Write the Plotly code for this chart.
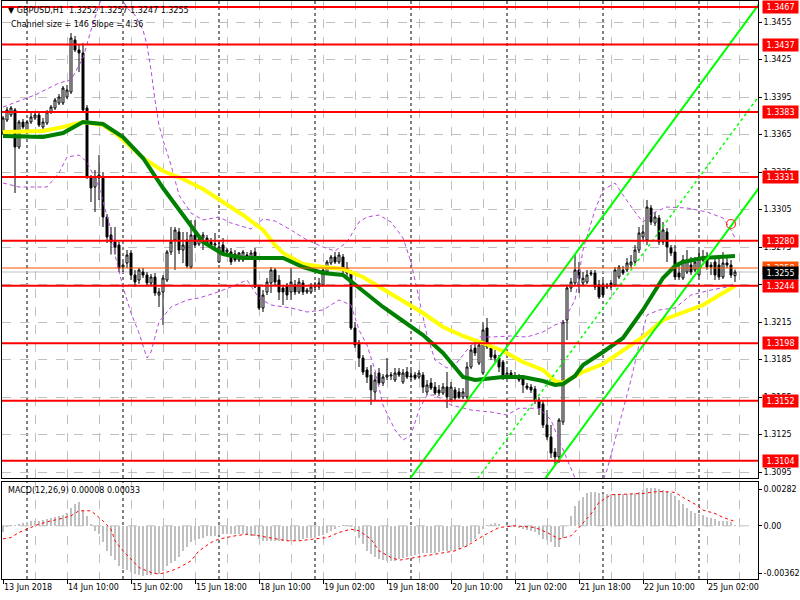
import plotly.graph_objects as go
from datetime import datetime, timedelta

# ---------------- DATA ----------------
opens = [1.33662,1.33766,1.33806,1.33846,1.3355,1.3375,1.3367,1.3375,1.33782,1.33806,
1.3371,1.33742,1.3383,1.33862,1.33902,1.33902,1.3395,1.3399,1.34406,1.34326,
1.34302,1.33862,1.3331,1.3323,1.33302,1.3331,1.3299,1.32846,1.3279,1.32766,
1.3259,1.32622,1.32702,1.32526,1.32486,1.3255,1.32526,1.32462,1.3251,1.32366,
1.3239,1.32486,1.3271,1.32806,1.3287,1.32726,1.32806,1.3259,1.32846,1.32774,
1.32822,1.32822,1.3279,1.32766,1.3263,1.32766,1.3271,1.3271,1.32694,1.32646,
1.32646,1.32686,1.3267,1.3271,1.3243,1.32262,1.3239,1.32462,1.32566,1.32486,
1.32422,1.32446,1.3239,1.32446,1.3239,1.32462,1.3239,1.3239,1.3243,1.3243,
1.32446,1.3255,1.32622,1.3267,1.3263,1.3267,1.32582,1.3255,1.32102,1.31982,
1.31862,1.31766,1.31726,1.3159,1.31742,1.31662,1.3171,1.31718,1.31686,1.3175,
1.3167,1.3175,1.3171,1.31726,1.3171,1.31726,1.3159,1.31662,1.3163,1.31606,
1.31582,1.3163,1.31526,1.31606,1.3159,1.3155,1.3155,1.3179,1.31942,1.31822,
1.31742,1.32102,1.31942,1.31886,1.31862,1.3183,1.3171,1.31742,1.31718,1.3171,
1.31702,1.31638,1.3163,1.31614,1.31526,1.31494,1.31326,1.3123,1.3111,1.3107,
1.3135,1.32166,1.32422,1.32462,1.32566,1.32462,1.3247,1.32534,1.32542,1.32446,
1.32446,1.3243,1.32462,1.32446,1.3251,1.32566,1.32566,1.32606,1.3263,1.32726,
1.3283,1.32806,1.33062,1.32942,1.32982,1.3279,1.3287,1.32742,1.3271,1.32542,
1.32502,1.3255,1.32606,1.32566,1.32526,1.3267,1.3267,1.32606,1.3263,1.32606,
1.3251,1.32622,1.32606,1.3252]
highs = [1.33798,1.3387,1.33878,1.33862,1.33766,1.33774,1.33766,1.33822,1.33822,1.33822,
1.33782,1.33846,1.33886,1.33942,1.33974,1.34038,1.34046,1.34462,1.34438,1.34366,
1.34382,1.33886,1.33326,1.33366,1.33486,1.3335,1.33014,1.3291,1.3291,1.3279,
1.3263,1.32726,1.32726,1.32566,1.32582,1.32582,1.3255,1.32534,1.32542,1.32422,
1.32526,1.32726,1.3291,1.3291,1.32902,1.3287,1.3287,1.32966,1.32966,1.32838,
1.3287,1.32846,1.32822,1.32862,1.3279,1.32822,1.32742,1.32742,1.32726,1.3271,
1.32726,1.3271,1.32726,1.32742,1.32446,1.32406,1.32502,1.3259,1.32582,1.32526,
1.32446,1.32462,1.32582,1.32486,1.32502,1.32486,1.32422,1.32462,1.3247,1.32502,
1.32606,1.32646,1.32686,1.3271,1.3271,1.32694,1.3263,1.32566,1.3215,1.32006,
1.31886,1.3179,1.31806,1.3175,1.31782,1.31734,1.31862,1.3175,1.31782,1.31782,
1.31774,1.3179,1.31766,1.3175,1.31766,1.3175,1.31686,1.31702,1.3167,1.31646,
1.31662,1.3175,1.3167,1.3163,1.31622,1.31622,1.3183,1.31966,1.32006,1.32006,
1.3215,1.32182,1.31966,1.31926,1.31886,1.31846,1.31766,1.31766,1.3175,1.31734,
1.31718,1.31662,1.31654,1.31638,1.3155,1.31526,1.31446,1.31326,1.31142,1.31382,
1.32166,1.32446,1.32502,1.32686,1.3263,1.3255,1.32566,1.32566,1.32566,1.32486,
1.32486,1.32462,1.32486,1.3259,1.32606,1.32598,1.32662,1.32686,1.32766,1.3291,
1.32926,1.33126,1.33086,1.3303,1.33006,1.3295,1.32902,1.32766,1.32766,1.3263,
1.32686,1.32726,1.3267,1.3267,1.32726,1.32726,1.3271,1.3263,1.32662,1.3267,
1.3271,1.32662,1.32646,1.3257]
lows = [1.33646,1.3375,1.3379,1.33182,1.33534,1.33694,1.33654,1.33734,1.33766,1.3371,
1.33694,1.33726,1.33814,1.33846,1.33886,1.33886,1.33934,1.33974,1.3431,1.3415,
1.3383,1.33294,1.3311,1.3303,1.33126,1.3291,1.32782,1.3269,1.3269,1.3255,
1.3255,1.32582,1.32486,1.3243,1.32454,1.32502,1.32438,1.32446,1.32358,1.3227,
1.32126,1.3247,1.32686,1.32566,1.32694,1.32622,1.32582,1.32574,1.32742,1.32758,
1.32726,1.32766,1.32742,1.32742,1.32622,1.32686,1.32678,1.32606,1.3263,1.3263,
1.3263,1.32646,1.32654,1.32422,1.32246,1.3223,1.32366,1.32382,1.32446,1.32326,
1.32286,1.32326,1.32326,1.32366,1.32374,1.32366,1.32374,1.32374,1.32406,1.32406,
1.3243,1.32534,1.32606,1.32614,1.32614,1.32526,1.32518,1.32086,1.31942,1.3179,
1.31726,1.31662,1.31486,1.31526,1.31646,1.31638,1.31686,1.31686,1.3167,1.3171,
1.31654,1.31694,1.31686,1.31686,1.31694,1.31582,1.31566,1.31606,1.31566,1.31558,
1.31566,1.31462,1.3151,1.31526,1.31534,1.31534,1.31534,1.31774,1.31878,1.31806,
1.31726,1.31934,1.31846,1.3183,1.3175,1.31686,1.31694,1.31702,1.31702,1.3167,
1.31582,1.31606,1.31582,1.31494,1.31406,1.31302,1.31206,1.31062,1.31006,1.31022,
1.31326,1.32006,1.3239,1.32438,1.32382,1.32438,1.32454,1.32518,1.32406,1.32334,
1.3235,1.32414,1.32406,1.3243,1.32494,1.32526,1.3255,1.32582,1.32614,1.32702,
1.32806,1.32766,1.32926,1.32918,1.32766,1.32766,1.3263,1.32678,1.32486,1.32486,
1.32486,1.32534,1.32526,1.3255,1.3251,1.3263,1.32566,1.32526,1.32486,1.32486,
1.32494,1.32582,1.32502,1.3247]
closes = [1.33782,1.33846,1.33862,1.3355,1.3375,1.3371,1.3375,1.3379,1.33806,1.33726,
1.3375,1.3383,1.3387,1.33926,1.3395,1.34022,1.34006,1.34422,1.34326,1.34302,
1.33846,1.3331,1.33222,1.3331,1.33326,1.3299,1.3283,1.3279,1.3275,1.32582,
1.32606,1.32686,1.32526,1.3247,1.32566,1.32526,1.32462,1.3251,1.32382,1.3239,
1.32502,1.3271,1.3279,1.32886,1.32726,1.32766,1.32598,1.32846,1.32766,1.32814,
1.32846,1.32782,1.32766,1.32774,1.3275,1.32702,1.32726,1.3263,1.32646,1.32702,
1.3271,1.32662,1.32702,1.3243,1.32262,1.32366,1.3247,1.32566,1.3247,1.3239,
1.3239,1.32366,1.3247,1.3239,1.3247,1.3239,1.32406,1.3243,1.32446,1.32462,
1.32566,1.3263,1.3267,1.3263,1.32686,1.32566,1.32542,1.32102,1.31966,1.31862,
1.3175,1.3171,1.31606,1.31686,1.31662,1.3171,1.31726,1.31726,1.31742,1.31726,
1.31742,1.3171,1.31718,1.31702,1.31742,1.3163,1.31646,1.31622,1.31582,1.31582,
1.3163,1.3155,1.3163,1.31542,1.3155,1.3159,1.3179,1.31926,1.31902,1.31966,
1.32086,1.3195,1.3187,1.31862,1.3179,1.3171,1.31742,1.31726,1.3171,1.31686,
1.31646,1.31622,1.31606,1.31518,1.31462,1.31326,1.3123,1.31102,1.3107,1.31366,
1.3215,1.32422,1.3247,1.32566,1.325,1.325,1.32526,1.32542,1.3243,1.3235,
1.32366,1.32446,1.3243,1.32566,1.3259,1.32542,1.32622,1.3263,1.32726,1.32862,
1.3287,1.3307,1.3295,1.3299,1.3279,1.32886,1.3275,1.32702,1.3251,1.3251,
1.32646,1.32646,1.3255,1.3263,1.3267,1.32646,1.3259,1.3259,1.32526,1.3251,
1.32622,1.32606,1.32526,1.3255]

# moving averages (read at sampled bars)
ma_green_bars = [0,5,10,15,20,25,30,35,40,45,50,55,60,65,70,75,80,85,90,95,100,105,110,115,118,120,125,130,135,138,140,143,145,150,155,160,163,165,168,170,175,180,183]
ma_green_vals = [1.33638,1.3363,1.3363,1.33662,1.3375,1.33734,1.3363,1.33462,1.33222,1.33006,1.3279,1.32694,1.32662,1.32662,1.32662,1.3259,1.32542,1.32526,1.32398,1.3227,1.32158,1.32046,1.31902,1.3171,1.31686,1.31694,1.3171,1.3171,1.31678,1.31646,1.31654,1.31718,1.31806,1.3191,1.32022,1.32246,1.32406,1.32502,1.32598,1.3263,1.32662,1.3267,1.32678]
ma_yellow_bars = [0,5,10,15,20,25,28,30,35,40,45,50,55,60,65,68,70,75,80,85,90,95,100,105,110,115,120,125,130,135,138,140,143,145,150,155,160,165,170,175,180,183]
ma_yellow_vals = [1.3367,1.3367,1.33678,1.3371,1.3375,1.33726,1.33662,1.33606,1.33462,1.33358,1.33294,1.33214,1.3311,1.33006,1.32886,1.32766,1.32702,1.32614,1.3259,1.32574,1.3251,1.32414,1.32326,1.32222,1.3211,1.32038,1.31982,1.31918,1.3183,1.31766,1.31678,1.31662,1.31718,1.3175,1.31814,1.31926,1.3203,1.32166,1.32222,1.32286,1.32382,1.32438]

# envelope bands (read at sampled bars)
band_up_bars = [0,8,14,17,20,22,24,26,28,31,33,35,36,37,38,39,40,42,44,47,50,54,57,62,65,68,72,76,80,83,86,89,91,94,97,100,102,104,106,108,111,113,116,119,122,127,131,135,138,140,143,145,148,150,153,155,158,160,163,166,171,176,180,182,183]
band_up_vals = [1.3387,1.33966,1.34062,1.34086,1.34262,1.34486,1.34686,1.34846,1.34846,1.34662,1.34606,1.34486,1.34366,1.34166,1.33926,1.33726,1.33606,1.33406,1.33166,1.33022,1.32966,1.3299,1.32942,1.32894,1.32974,1.32958,1.32886,1.32806,1.3275,1.32718,1.3279,1.3295,1.3299,1.33006,1.3295,1.32822,1.3263,1.32342,1.32046,1.31846,1.31782,1.31806,1.31926,1.3203,1.3203,1.32038,1.3203,1.3207,1.32126,1.3215,1.32326,1.32726,1.33046,1.33206,1.33262,1.33166,1.3303,1.3295,1.3303,1.3307,1.33062,1.3303,1.32982,1.32886,1.32822]
band_dn_bars = [0,4,11,14,16,19,21,24,27,28,30,32,34,36,37,39,42,46,49,53,57,61,64,67,72,76,80,84,87,89,91,93,95,98,100,102,104,106,108,112,117,122,126,129,134,137,139,141,143,145,149,151,153,155,157,159,161,164,168,172,177,181,183]
band_dn_vals = [1.33262,1.3323,1.3323,1.33342,1.3347,1.33486,1.3343,1.3323,1.32886,1.32686,1.3243,1.32222,1.32062,1.31862,1.3191,1.3215,1.3227,1.32326,1.32342,1.32382,1.3243,1.32486,1.32342,1.32286,1.32262,1.3223,1.32246,1.32326,1.32286,1.32086,1.31966,1.31766,1.31486,1.31286,1.31206,1.31246,1.31446,1.31566,1.31566,1.31486,1.31446,1.3143,1.31406,1.3146,1.3146,1.31366,1.31206,1.31046,1.30902,1.3079,1.30806,1.30966,1.31206,1.31446,1.31686,1.31966,1.32206,1.32246,1.32262,1.32366,1.32406,1.3243,1.32462]

# regression channel: (bar, mid price) at both ends and half width
channel_bars = [100, 189]
channel_mid = [1.30086, 1.33958]
channel_half = 0.00735
alert_bar = [182]
alert_price = [1.32934]

# horizontal levels
levels = [1.3467, 1.3437, 1.3383, 1.3331, 1.3280, 1.3244, 1.3198, 1.3152, 1.3104]
ask_level = 1.32582
bid_level = 1.3255

# MACD
macd_hist = [-0.00051,-0.00013,0.00008,0.00008,0.00013,0.00018,0.00026,0.00033,0.00038,0.00038,
0.00044,0.00051,0.00059,0.00064,0.00077,0.00084,0.00097,0.00136,0.00166,0.00179,
0.0012,0.00077,0.00013,-0.00038,-0.00064,-0.00128,-0.00192,-0.0023,-0.00264,-0.00307,
-0.00333,-0.0034,-0.00358,-0.00371,-0.00379,-0.00384,-0.00379,-0.00376,-0.00371,-0.00366,
-0.00346,-0.00307,-0.00282,-0.00269,-0.00238,-0.00197,-0.00161,-0.00128,-0.0011,-0.00102,
-0.0009,-0.00082,-0.00077,-0.00077,-0.00072,-0.00064,-0.00064,-0.00064,-0.00064,-0.00064,
-0.00064,-0.00069,-0.00077,-0.00077,-0.00102,-0.0012,-0.0012,-0.00115,-0.00115,-0.0012,
-0.0012,-0.0012,-0.00115,-0.00115,-0.0011,-0.00102,-0.00097,-0.0009,-0.0009,-0.00077,
-0.00069,-0.00059,-0.00038,-0.00026,-0.00013,0.00005,0.00008,-0.00008,-0.00051,-0.0009,
-0.00141,-0.00192,-0.00218,-0.00243,-0.00256,-0.00264,-0.00269,-0.00269,-0.00269,-0.00256,
-0.00248,-0.00238,-0.0023,-0.00223,-0.00218,-0.00212,-0.00212,-0.00207,-0.00205,-0.00202,
-0.00197,-0.00192,-0.00192,-0.00187,-0.00179,-0.00166,-0.00154,-0.00128,-0.00102,-0.00064,
-0.00026,0.00008,0.00013,0.00018,0.00013,0.0,-0.00005,-0.00008,-0.00013,-0.00018,
-0.00026,-0.00033,-0.00038,-0.00051,-0.00069,-0.00102,-0.0011,-0.00128,-0.00166,-0.00166,
-0.0009,0.0,0.00077,0.00154,0.00187,0.00223,0.00248,0.00256,0.00256,0.00251,
0.00243,0.00243,0.00243,0.00243,0.00243,0.00243,0.00243,0.00243,0.00248,0.00256,
0.00274,0.00287,0.00289,0.00289,0.00282,0.00274,0.00264,0.00248,0.0023,0.00197,
0.00166,0.00133,0.0011,0.00095,0.0009,0.00082,0.00069,0.00059,0.00051,0.00038,
0.00033,0.00033,0.00026,0.00008]
signal_bars = [0,2,4,7,9,12,14,17,19,22,23,25,27,28,30,32,34,37,39,42,44,47,49,52,54,58,61,64,68,71,74,78,81,84,87,89,92,94,97,99,103,108,113,116,120,124,128,133,136,139,142,144,147,149,152,156,160,164,168,170,173,175,178,180,183]
signal_vals = [-0.001,-0.0009,-0.00051,-0.00013,0.00013,0.00038,0.00051,0.00077,0.00115,0.00115,0.0009,0.00038,-0.00026,-0.00115,-0.00192,-0.00256,-0.0032,-0.00358,-0.00371,-0.00346,-0.0032,-0.00269,-0.00192,-0.00128,-0.00102,-0.00077,-0.00064,-0.00077,-0.00102,-0.00115,-0.00115,-0.00102,-0.0009,-0.00051,-0.00026,-0.00038,-0.00102,-0.00192,-0.00243,-0.00264,-0.00243,-0.00218,-0.00192,-0.00154,-0.00077,-0.00013,0.0,-0.00013,-0.00051,-0.00102,-0.00077,-0.00013,0.0009,0.00179,0.00238,0.00243,0.00248,0.00264,0.00256,0.00218,0.00166,0.0012,0.00095,0.00064,0.00033]
macd_ticks = [0.00282, 0.0, -0.00362]
macd_tick_text = ["0.00282", "0.00", "-0.00362"]

# time axis (H1 bars, weekends closed)
times = []
t = datetime(2018, 6, 13, 18)
while len(times) < len(closes):
    if t.weekday() < 5:
        times.append(t)
    t += timedelta(hours=1)
bars = list(range(len(closes)))
label_bars = bars[::16]
label_text = [f"{times[0].day} {times[0]:%b %Y}"] + [f"{times[b].day} {times[b]:%b %H:%M}" for b in label_bars[1:]]
day_sep_bars = [b for b in bars if times[b].hour == 0]

price_ticks = [round(1.3095 + 0.003 * k, 4) for k in range(13)]

# ---------------- FIGURE ----------------
FONT = "DejaVu Sans"
fig = go.Figure()

fig.add_trace(go.Candlestick(
    x=bars, open=opens, high=highs, low=lows, close=closes,
    increasing=dict(fillcolor="white", line=dict(color="black", width=1)),
    decreasing=dict(fillcolor="black", line=dict(color="black", width=1)),
    whiskerwidth=0, xaxis="x", yaxis="y", showlegend=False, hoverinfo="skip"))

band_style = dict(color="#B44CDC", width=1, dash="4px,3px")
fig.add_trace(go.Scatter(x=band_up_bars, y=band_up_vals, mode="lines", line=band_style, showlegend=False, hoverinfo="skip"))
fig.add_trace(go.Scatter(x=band_dn_bars, y=band_dn_vals, mode="lines", line=band_style, showlegend=False, hoverinfo="skip"))
fig.add_trace(go.Scatter(x=ma_yellow_bars, y=ma_yellow_vals, mode="lines", line=dict(color="#FFFF00", width=4), showlegend=False, hoverinfo="skip"))
fig.add_trace(go.Scatter(x=ma_green_bars, y=ma_green_vals, mode="lines", line=dict(color="#008000", width=4), showlegend=False, hoverinfo="skip"))

# channel
for k, sty in [(1, dict(color="#00FF00", width=2)), (0, dict(color="#00FF00", width=1.5, dash="dot")), (-1, dict(color="#00FF00", width=2))]:
    fig.add_trace(go.Scatter(x=channel_bars, y=[m + k * channel_half for m in channel_mid], mode="lines",
                             line=sty, showlegend=False, hoverinfo="skip"))
fig.add_trace(go.Scatter(x=alert_bar, y=alert_price, mode="markers",
                         marker=dict(symbol="circle-open", size=9, color="#FF3030", line=dict(width=1.2)),
                         showlegend=False, hoverinfo="skip"))

# MACD
fig.add_trace(go.Bar(x=bars, y=macd_hist, marker=dict(color="#C0C0C0", line=dict(width=0)), width=0.72,
                     xaxis="x2", yaxis="y2", showlegend=False, hoverinfo="skip"))
fig.add_trace(go.Scatter(x=signal_bars, y=signal_vals, mode="lines", line=dict(color="#FF0000", width=1, dash="dot"),
                         xaxis="x2", yaxis="y2", showlegend=False, hoverinfo="skip"))

shapes = []
for b in day_sep_bars:
    for yr in ["y domain", "y2 domain"]:
        shapes.append(dict(type="line", xref="x", yref=yr, x0=b, x1=b, y0=0, y1=1,
                           line=dict(color="black", width=1, dash="3px,3px"), layer="below"))
shapes.append(dict(type="line", xref="x2 domain", yref="y2", x0=0, x1=1, y0=0, y1=0,
                   line=dict(color="#C0C0C0", width=1, dash="dash"), layer="below"))
shapes.append(dict(type="line", xref="x domain", yref="y", x0=0, x1=1, y0=bid_level, y1=bid_level,
                   line=dict(color="#C0C0C0", width=1), layer="below"))
shapes.append(dict(type="line", xref="x domain", yref="y", x0=0, x1=1, y0=ask_level, y1=ask_level,
                   line=dict(color="#FF5000", width=1), layer="above"))
for lv in levels:
    shapes.append(dict(type="line", xref="x domain", yref="y", x0=0, x1=1, y0=lv, y1=lv,
                       line=dict(color="#FF0000", width=2), layer="above"))

LBL = dict(family=FONT, size=8, color="white")
annotations = []
for lv in levels:
    annotations.append(dict(xref="paper", yref="y", x=1, y=lv, xanchor="left", xshift=4, text=f"{lv:.4f}",
                            showarrow=False, bgcolor="#FF0000", width=35, height=12, align="center",
                            font=LBL, borderpad=0))
annotations.append(dict(xref="paper", yref="y", x=1, y=ask_level, xanchor="left", xshift=4, text=f"{ask_level:.4f}",
                        showarrow=False, bgcolor="#FF5000", width=35, height=12, align="center",
                        font=LBL, borderpad=0))
annotations.append(dict(xref="paper", yref="y", x=1, y=bid_level, xanchor="left", xshift=4, yshift=-1, text=f"{bid_level:.4f}",
                        showarrow=False, bgcolor="#000000", width=35, height=12, align="center",
                        font=LBL, borderpad=0))
TXT = dict(family=FONT, size=8, color="black")
annotations.append(dict(xref="paper", yref="paper", x=0, y=1, xanchor="left", yanchor="top", xshift=4, yshift=-3,
                        text="▼ GBPUSD,H1  1.3252 1.3257 1.3247 1.3255", showarrow=False, font=TXT))
annotations.append(dict(xref="paper", yref="paper", x=0, y=1, xanchor="left", yanchor="top", xshift=7, yshift=-17,
                        text="Channel size = 146 Slope = 4.36", showarrow=False, font=TXT))
annotations.append(dict(xref="paper", yref="y2 domain", x=0, y=1, xanchor="left", yanchor="top", xshift=4, yshift=-2,
                        text="MACD(12,26,9) 0.00008 0.00033", showarrow=False, font=TXT))
for b, txt in zip(label_bars, label_text):
    annotations.append(dict(xref="x2", yref="paper", x=b, y=0, xanchor="left", yanchor="top", yshift=-2, xshift=-1,
                            text=txt, showarrow=False, font=TXT))

grid = dict(showgrid=True, gridcolor="#C0C0C0", gridwidth=1, griddash="dash")
fig.update_layout(
    template="none",
    width=800, height=600, margin=dict(l=2, r=42, t=1, b=21, autoexpand=False),
    paper_bgcolor="white", plot_bgcolor="white", showlegend=False, bargap=0,
    shapes=shapes, annotations=annotations,
    xaxis=dict(domain=[0, 1], range=[-0.25, 188.75], tickmode="linear", tick0=0, dtick=8, automargin=False,
               showticklabels=False, ticks="", zeroline=False, rangeslider=dict(visible=False),
               showline=True, linecolor="black", linewidth=1, mirror=True, anchor="y", **grid),
    yaxis=dict(domain=[0.17474, 1], range=[1.30902, 1.34718], side="right", tickmode="array", automargin=False,
               tickvals=price_ticks, ticktext=[f"{v:.4f}" for v in price_ticks], ticks="outside", ticklen=3,
               tickcolor="black", tickfont=TXT, zeroline=False,
               showline=True, linecolor="black", linewidth=1, mirror=True, anchor="x", **grid),
    xaxis2=dict(domain=[0, 1], range=[-0.25, 188.75], matches="x", anchor="y2", tickmode="array", automargin=False,
                tickvals=label_bars, showticklabels=False, ticks="outside", ticklen=4, tickcolor="black",
                zeroline=False, showline=True, linecolor="black", linewidth=1, mirror=True,
                minor=dict(tickmode="linear", tick0=0, dtick=8, showgrid=True, gridcolor="#C0C0C0", griddash="dash", ticks=""),
                **grid),
    yaxis2=dict(domain=[0, 0.16782], range=[-0.004079, 0.003358], side="right", tickmode="array", automargin=False,
                tickvals=macd_ticks, ticktext=macd_tick_text, ticks="outside", ticklen=3, tickcolor="black",
                tickfont=TXT, showgrid=False, zeroline=False,
                showline=True, linecolor="black", linewidth=1, mirror=True, anchor="x2"),
)

# the page body has a default 8px margin; remove it so the chart sits at the window origin
fig.write_html("out.html", config={"displayModeBar": False, "staticPlot": True},
               post_script="document.body.style.margin='0';document.body.style.overflow='hidden';")
